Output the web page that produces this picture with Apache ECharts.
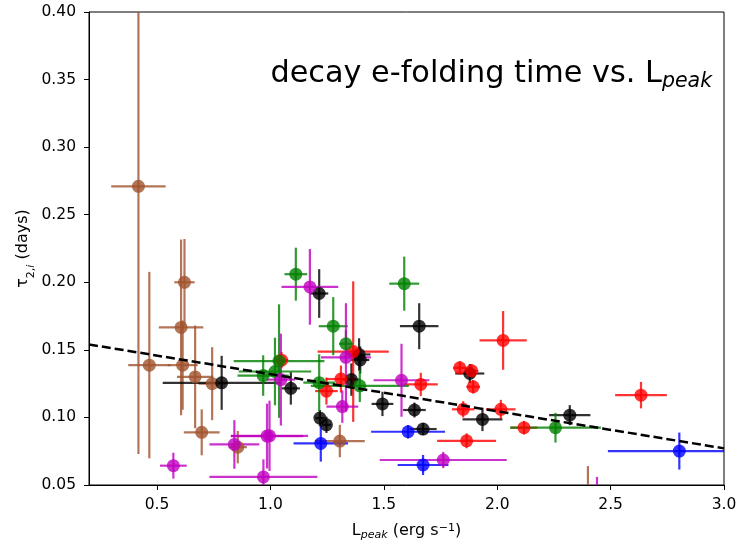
<!DOCTYPE html>
<html><head><meta charset="utf-8">
<script src="https://cdn.jsdelivr.net/npm/echarts@6/dist/echarts.min.js"></script>
<style>html,body{margin:0;padding:0;background:#fff}#c{width:739px;height:546px}</style>
</head><body><div id="c"></div>
<script>
// ---- data ----
const brownX    = [0.418, 0.621, 0.606, 0.466, 0.613, 0.668, 0.743, 0.697, 0.856, 1.306, 2.400];
const brownY    = [0.271, 0.200, 0.1666, 0.1387, 0.1387, 0.130, 0.125, 0.089, 0.078, 0.0825, 0.046];
const brownXErr = [0.120, 0.045, 0.098, 0.093, 0.066, 0.080, 0.060, 0.079, 0.040, 0.110, 0.030];
const brownYErr = [0.198, 0.032, 0.065, 0.069, 0.033, 0.038, 0.027, 0.017, 0.012, 0.012, 0.018];

const blackX    = [0.785, 1.090, 1.215, 1.218, 1.247, 1.357, 1.391, 1.396, 1.494, 1.656, 1.635, 1.673, 1.879, 1.935, 2.320];
const blackY    = [0.1256, 0.1215, 0.1917, 0.0995, 0.0945, 0.128, 0.1466, 0.1425, 0.110, 0.1675, 0.1055, 0.0914, 0.1325, 0.0985, 0.1017];
const blackXErr = [0.260, 0.040, 0.040, 0.020, 0.020, 0.040, 0.050, 0.040, 0.048, 0.085, 0.050, 0.060, 0.064, 0.088, 0.091];
const blackYErr = [0.020, 0.012, 0.018, 0.006, 0.006, 0.012, 0.012, 0.010, 0.009, 0.017, 0.0055, 0.0045, 0.007, 0.0086, 0.0074];

const redX    = [1.049, 1.311, 1.247, 1.365, 1.663, 1.835, 1.887, 1.894, 2.026, 1.850, 2.016, 1.865, 2.118, 2.634];
const redY    = [0.1424, 0.1284, 0.1195, 0.1487, 0.1244, 0.1367, 0.1345, 0.1227, 0.157, 0.106, 0.106, 0.0827, 0.0924, 0.1165];
const redXErr = [0.030, 0.066, 0.050, 0.157, 0.075, 0.030, 0.030, 0.030, 0.104, 0.050, 0.065, 0.130, 0.059, 0.114];
const redYErr = [0.006, 0.010, 0.010, 0.052, 0.0086, 0.005, 0.005, 0.005, 0.0217, 0.006, 0.007, 0.0055, 0.005, 0.0098];

const greenX    = [0.968, 1.038, 1.020, 1.112, 1.277, 1.333, 1.215, 1.394, 1.590, 2.257];
const greenY    = [0.131, 0.1417, 0.134, 0.206, 0.1675, 0.1545, 0.1257, 0.1234, 0.199, 0.0924];
const greenXErr = [0.113, 0.200, 0.160, 0.050, 0.064, 0.030, 0.070, 0.216, 0.066, 0.200];
const greenYErr = [0.015, 0.042, 0.025, 0.0196, 0.0215, 0.010, 0.021, 0.012, 0.020, 0.011];

const magentaX    = [0.572, 0.841, 0.996, 0.985, 0.969, 1.046, 1.174, 1.333, 1.317, 1.578, 1.762, 2.440];
const magentaY    = [0.0643, 0.080, 0.0864, 0.0862, 0.056, 0.128, 0.1966, 0.1445, 0.108, 0.1275, 0.0685, 0.040];
const magentaXErr = [0.059, 0.110, 0.170, 0.160, 0.238, 0.062, 0.125, 0.110, 0.070, 0.123, 0.280, 0.010];
const magentaYErr = [0.0096, 0.018, 0.026, 0.024, 0.013, 0.034, 0.028, 0.040, 0.012, 0.027, 0.006, 0.016];

const blueX    = [1.222, 1.607, 1.673, 2.803];
const blueY    = [0.0808, 0.0894, 0.0648, 0.0751];
const blueXErr = [0.120, 0.163, 0.112, 0.315];
const blueYErr = [0.0135, 0.005, 0.0074, 0.0137];

const fitX = [0.2, 3.0];
const fitY = [0.154, 0.0771];

const xTicks = [0.5, 1.0, 1.5, 2.0, 2.5, 3.0];

// ---- build series ----
const groups = [
  {name:'brown',   color:'#a0522d', x:brownX,   y:brownY,   xe:brownXErr,   ye:brownYErr},
  {name:'black',   color:'#000000', x:blackX,   y:blackY,   xe:blackXErr,   ye:blackYErr},
  {name:'red',     color:'#ff0000', x:redX,     y:redY,     xe:redXErr,     ye:redYErr},
  {name:'green',   color:'#008000', x:greenX,   y:greenY,   xe:greenXErr,   ye:greenYErr},
  {name:'magenta', color:'#bf00bf', x:magentaX, y:magentaY, xe:magentaXErr, ye:magentaYErr},
  {name:'blue',    color:'#0000ff', x:blueX,    y:blueY,    xe:blueXErr,    ye:blueYErr}
];

const series = [];
groups.forEach(function(g){
  const errData = g.x.map(function(v,i){ return [v, g.y[i], g.xe[i], g.ye[i]]; });
  series.push({
    type:'custom', name:g.name+'-err', clip:true, silent:true,
    data: errData,
    encode:{x:0, y:1},
    renderItem: function(params, api){
      const x=api.value(0), y=api.value(1), xe=api.value(2), ye=api.value(3);
      const a=api.coord([x-xe,y]), b=api.coord([x+xe,y]);
      const c=api.coord([x,y-ye]), d=api.coord([x,y+ye]);
      const st={stroke:g.color, lineWidth:2.2, opacity:0.8};
      return {type:'group', children:[
        {type:'line', shape:{x1:a[0],y1:a[1],x2:b[0],y2:b[1]}, style:st},
        {type:'line', shape:{x1:c[0],y1:c[1],x2:d[0],y2:d[1]}, style:st}
      ]};
    }
  });
  series.push({
    type:'scatter', name:g.name, clip:true, silent:true,
    data: g.x.map(function(v,i){ return [v, g.y[i]]; }),
    symbol:'circle', symbolSize:13,
    itemStyle:{color:g.color, opacity:0.8}
  });
});
series.push({
  type:'line', name:'fit', silent:true,
  data: fitX.map(function(v,i){ return [v, fitY[i]]; }),
  showSymbol:false, symbol:'none',
  lineStyle:{color:'#000', width:2.5, type:[9,4]},
  z:10
});

const FONT = 'DejaVu Sans';
const chart = echarts.init(document.getElementById('c'), null, {renderer:'canvas'});
chart.setOption({
  animation:false,
  backgroundColor:'#fff',
  textStyle:{fontFamily:FONT},
  title:{
    text:'{a|decay e-folding time vs. L}{s|peak}',
    right:27, top:59, padding:0,
    textStyle:{
      fontFamily:FONT, fontWeight:'normal',
      rich:{
        a:{fontFamily:FONT, fontSize:30.3, fontWeight:'normal', color:'#000', lineHeight:30, verticalAlign:'top'},
        s:{fontFamily:FONT, fontSize:20.5, fontWeight:'normal', fontStyle:'italic', color:'#000', lineHeight:20, padding:[13,0,0,0], verticalAlign:'top'}
      }
    }
  },
  grid:{left:89, right:15, top:12, bottom:61, show:true, borderColor:'#000', borderWidth:1,
        containLabel:false, outerBoundsMode:'none'},
  xAxis:{
    type:'value', min:0.2, max:3.0,
    splitLine:{show:false},
    axisLine:{show:true, onZero:false, lineStyle:{color:'#000', width:1}},
    axisTick:{show:true, length:5, inside:false, lineStyle:{color:'#000'}, customValues:xTicks},
    axisLabel:{color:'#000', fontSize:15.5, fontFamily:FONT, margin:12, customValues:xTicks,
      formatter:function(v){ return v.toFixed(1); }},
    name:'{a|L}{s|peak}{a| (erg s}{p|−1}{a|)}',
    nameLocation:'middle', nameGap:38,
    nameTextStyle:{
      rich:{
        a:{fontFamily:FONT, fontSize:16, color:'#000', lineHeight:18, padding:[0,0,2,0], verticalAlign:'bottom'},
        s:{fontFamily:FONT, fontSize:11, fontStyle:'italic', color:'#000', lineHeight:12, verticalAlign:'bottom'},
        p:{fontFamily:FONT, fontSize:11, color:'#000', lineHeight:12, padding:[0,0,11,0], verticalAlign:'top'}
      }
    }
  },
  yAxis:{
    type:'value', min:0.05, max:0.40, interval:0.05,
    splitLine:{show:false},
    axisLine:{show:true, onZero:false, lineStyle:{color:'#000', width:1}},
    axisTick:{show:true, length:5, inside:false, lineStyle:{color:'#000'}},
    axisLabel:{color:'#000', fontSize:15.5, fontFamily:FONT, margin:13,
      formatter:function(v){ return v.toFixed(2); }},
    name:'{a|τ}{s|2,}{i|i}{a| (days)}',
    nameLocation:'middle', nameGap:56, nameMoveOverlap:false,
    nameTextStyle:{
      rich:{
        a:{fontFamily:FONT, fontSize:16, color:'#000', lineHeight:18, padding:[0,0,2,0], verticalAlign:'top'},
        s:{fontFamily:FONT, fontSize:11, color:'#000', lineHeight:12, padding:[11,0,0,0], verticalAlign:'top'},
        i:{fontFamily:FONT, fontSize:11, fontStyle:'italic', color:'#000', lineHeight:12, padding:[11,0,0,0], verticalAlign:'top'}
      }
    }
  },
  series: series
});
</script>
</body></html>
